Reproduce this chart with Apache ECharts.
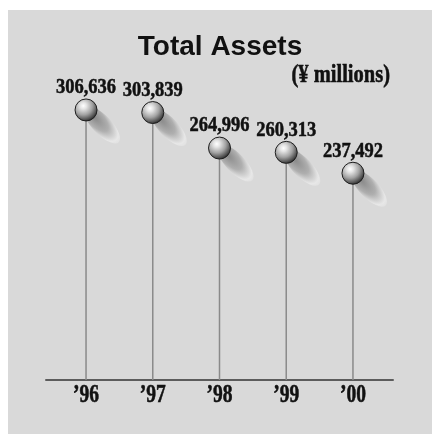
<!DOCTYPE html>
<html>
<head>
<meta charset="utf-8">
<script src="https://cdn.jsdelivr.net/npm/echarts@6/dist/echarts.min.js"></script>
<style>
  html, body { margin: 0; padding: 0; background: #ffffff; }
  #chart { width: 432px; height: 434px; }
</style>
</head>
<body>
<div id="chart"></div>
<script>
// Fiscal years and total assets (¥ millions)
const years = ['\u201996', '\u201997', '\u201998', '\u201999', '\u201900'];
const totalAssets = [306636, 303839, 264996, 260313, 237492];
const titleText = 'Total Assets';
const unitText = '(\u00a5 millions)';

// value range of the vertical scale (baseline sits on the axis line)
const yMin = 11500;
const yMax = 330000;

const serifBold = '"Liberation Serif", "Times New Roman", serif';

const chart = echarts.init(document.getElementById('chart'), null, { renderer: 'canvas' });

const ballFill = new echarts.graphic.RadialGradient(0.38, 0.32, 0.72, [
  { offset: 0, color: '#ffffff' },
  { offset: 0.2, color: '#e4e4e4' },
  { offset: 0.55, color: '#a2a2a2' },
  { offset: 0.85, color: '#4e4e4e' },
  { offset: 1, color: '#1c1c1c' }
]);

// soft cast shadow: darker next to the ball, fading out at the far end
const shadowFill = new echarts.graphic.RadialGradient(0.25, 0.5, 0.9, [
  { offset: 0, color: 'rgba(128,128,128,0.92)' },
  { offset: 0.45, color: 'rgba(165,165,165,0.82)' },
  { offset: 0.75, color: 'rgba(236,236,236,0.75)' },
  { offset: 0.9, color: 'rgba(230,230,230,0.3)' },
  { offset: 1, color: 'rgba(217,217,217,0)' }
]);

function boldText(text, size) {
  return {
    text: text, x: 0, y: 0, align: 'center', verticalAlign: 'middle',
    font: 'bold ' + size + 'px ' + serifBold,
    fill: '#111111', stroke: '#111111', lineWidth: 0.45
  };
}

function renderPin(params, api) {
  const i = api.value(0);
  const v = api.value(1);
  const p = api.coord([i, v]);
  const base = api.coord([i, yMin]);
  return {
    type: 'group',
    children: [
      {
        type: 'circle',
        x: p[0] + 16, y: p[1] + 15,
        rotation: -0.8, scaleX: 24, scaleY: 9.5,
        shape: { cx: 0, cy: 0, r: 1 },
        style: { fill: shadowFill }
      },
      {
        type: 'line',
        shape: { x1: p[0], y1: p[1], x2: p[0], y2: base[1] },
        style: { stroke: '#8a8a8a', lineWidth: 1.5 }
      },
      {
        type: 'circle',
        shape: { cx: p[0], cy: p[1], r: 11 },
        style: { fill: ballFill, stroke: '#1e1e1e', lineWidth: 1 }
      },
      {
        type: 'text',
        x: p[0], y: p[1] - 22, scaleY: 1.12,
        style: boldText(v.toLocaleString('en-US'), 18.5)
      }
    ]
  };
}

function renderYear(params, api) {
  const i = api.value(0);
  const base = api.coord([i, yMin]);
  return {
    type: 'text',
    x: base[0], y: base[1] + 16, scaleY: 1.28,
    style: boldText(years[i], 19.5)
  };
}

const unitStyle = boldText(unitText, 20.5);
unitStyle.align = 'right';

chart.setOption({
  animation: false,
  backgroundColor: '#ffffff',
  graphic: [
    {
      type: 'rect', z: -10, silent: true,
      shape: { x: 8, y: 10, width: 424, height: 424 },
      style: { fill: '#d9d9d9' }
    },
    {
      type: 'text', z: 10,
      x: 390, y: 75, scaleY: 1.25,
      style: unitStyle
    }
  ],
  title: {
    text: titleText,
    left: 220, top: 33, padding: 0,
    textAlign: 'center',
    textStyle: {
      fontFamily: '"Liberation Sans", Arial, sans-serif',
      fontWeight: 'bold', fontSize: 28, color: '#111111'
    }
  },
  grid: { left: 46, right: 39, top: 88.6, bottom: 54 },
  xAxis: {
    type: 'value', min: -0.6, max: 4.6,
    axisLine: { show: true, onZero: false, lineStyle: { color: '#5c5c5c', width: 2 } },
    axisTick: { show: false },
    axisLabel: { show: false },
    splitLine: { show: false }
  },
  yAxis: {
    type: 'value', min: yMin, max: yMax, show: false
  },
  series: [
    {
      name: 'Total Assets',
      type: 'custom',
      renderItem: renderPin,
      data: totalAssets.map((v, i) => [i, v]),
      clip: false
    },
    {
      name: 'Years',
      type: 'custom',
      renderItem: renderYear,
      data: years.map((y, i) => [i]),
      clip: false
    }
  ]
});
</script>
</body>
</html>
